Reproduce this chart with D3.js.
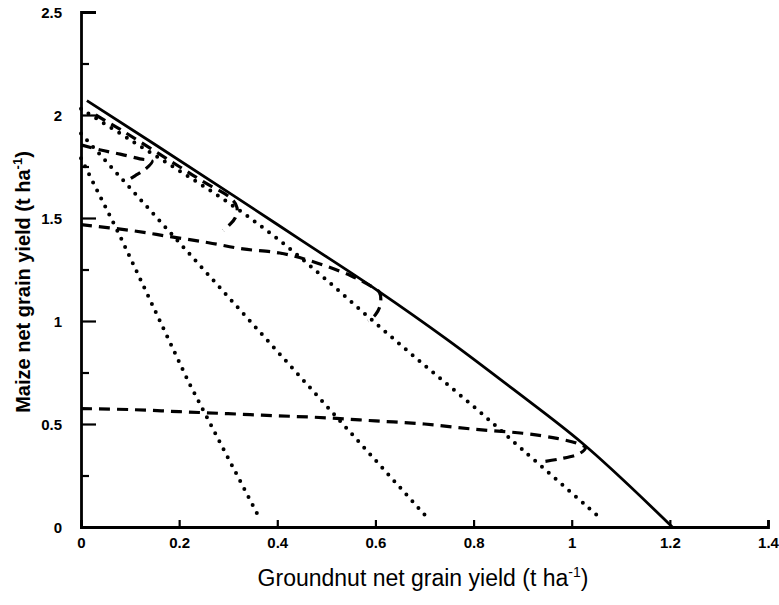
<!DOCTYPE html>
<html><head><meta charset="utf-8">
<script src="https://cdn.jsdelivr.net/npm/d3@7"></script>
<style>body{margin:0;background:#fff}svg{display:block}</style>
</head><body>
<svg id="chart" width="779" height="605"></svg>
<script>
// ---- data ----
const xTickValues = [0, 0.2, 0.4, 0.6, 0.8, 1, 1.2, 1.4];
const yTickValues = [0, 0.5, 1, 1.5, 2, 2.5];
const yMinorTicks = [0.25, 0.75, 1.25, 1.75, 2.25];

// solid frontier: [groundnut, maize]
const frontier = [[0.012,2.07],[0.15,1.858],[0.31,1.61],[0.45,1.39],[0.603,1.15],[0.745,0.912],[0.88,0.67],[1.02,0.41],[1.205,0.0]];

// dotted lines
const dotted1 = [[0,1.79],[0.08,1.41],[0.22,0.70],[0.36,0.06]];
const dotted2 = [[0,1.91],[0.70,0.06]];
const dotted3 = [[0,2.03],[0.1,1.88],[0.2,1.73],[0.3,1.575],[0.4,1.40],[0.5,1.2],[0.6,0.99],[0.7,0.785],[0.8,0.585],[0.9,0.375],[1.05,0.06]];

// dashed curves
const dashed1 = [[0,0.575],[0.1,0.57],[0.2,0.56],[0.3,0.55],[0.4,0.54],[0.5,0.53],[0.6,0.515],[0.7,0.5],[0.8,0.475],[0.9,0.455],[0.97,0.43],[1.012,0.405],[1.028,0.385],[1.015,0.355],[0.975,0.33],[0.935,0.315]];
const dashed2 = [[0,1.468],[0.1,1.44],[0.18,1.41],[0.26,1.38],[0.33,1.35],[0.405,1.33],[0.47,1.29],[0.55,1.22],[0.59,1.17],[0.608,1.14],[0.61,1.08],[0.6,1.03],[0.585,1.0]];
const dashed3 = [[0,1.855],[0.04,1.83],[0.08,1.81],[0.12,1.787],[0.145,1.775],[0.13,1.735],[0.11,1.705],[0.093,1.68]];
const dashed4 = [[0.03,2.0],[0.08,1.93],[0.14,1.84],[0.2,1.75],[0.25,1.675],[0.306,1.595],[0.318,1.55],[0.314,1.5],[0.302,1.465],[0.29,1.44]];

// ---- drawing ----
const svg = d3.select("#chart");
const x = d3.scaleLinear().domain([0, 1.4]).range([81, 768]);
const y = d3.scaleLinear().domain([0, 2.5]).range([527, 12]);
const FONT = "'Liberation Sans', Arial, Helvetica, sans-serif";
const fmt = d3.format("~g");

const line = d3.line().x(d => x(d[0])).y(d => y(d[1])).curve(d3.curveCatmullRom.alpha(0.5));
const lineLin = d3.line().x(d => x(d[0])).y(d => y(d[1]));
const lineMono = d3.line().x(d => x(d[0])).y(d => y(d[1])).curve(d3.curveMonotoneX);

// curves
const g = svg.append("g");
g.append("path").attr("d", lineMono(frontier)).attr("fill","none").attr("stroke","#000")
  .attr("stroke-width",2.8).attr("stroke-linejoin","round");
[dotted1, dotted2].forEach(d => g.append("path").attr("d", lineLin(d)).attr("fill","none")
  .attr("stroke","#000").attr("stroke-width",4).attr("stroke-linecap","round").attr("stroke-dasharray","0,9"));
g.append("path").attr("d", line(dotted3)).attr("fill","none")
  .attr("stroke","#000").attr("stroke-width",4).attr("stroke-linecap","round").attr("stroke-dasharray","0,9");
[dashed1, dashed2, dashed3, dashed4].forEach(d => g.append("path").attr("d", line(d)).attr("fill","none")
  .attr("stroke","#000").attr("stroke-width",3.2).attr("stroke-dasharray","11,7"));

// x axis
const xAxis = svg.append("g").attr("transform", `translate(0,${y(0)})`)
  .call(d3.axisBottom(x).tickValues(xTickValues).tickSize(-7).tickPadding(10).tickFormat(fmt));
// y axis
const yAxis = svg.append("g").attr("transform", `translate(${x(0)},0)`)
  .call(d3.axisLeft(y).tickValues(yTickValues).tickSize(-15).tickPadding(19).tickFormat(fmt));
svg.append("g").attr("transform", `translate(${x(0)},0)`)
  .call(d3.axisLeft(y).tickValues(yMinorTicks).tickSize(-8).tickFormat(""))
  .select(".domain").remove();

svg.selectAll(".domain").attr("stroke","#000").attr("stroke-width",2.8);
svg.selectAll(".tick line").attr("stroke","#000").attr("stroke-width",2.2);
[xAxis, yAxis].forEach(a => a.selectAll(".tick text").attr("font-family",FONT)
  .attr("font-size",15).attr("font-weight","bold").attr("fill","#000"));
yAxis.selectAll(".tick text").attr("dy","0.35em");

// axis titles
const xt = svg.append("text").attr("x", 423).attr("y", 586).attr("text-anchor","middle")
  .attr("font-family",FONT).attr("font-size",23).attr("fill","#000");
xt.append("tspan").text("Groundnut net grain yield (t ha");
xt.append("tspan").text("-1").attr("font-size",14).attr("dy",-9);
xt.append("tspan").text(")").attr("dy",9);

const yt = svg.append("text").attr("transform","translate(30,282) rotate(-90)").attr("text-anchor","middle")
  .attr("font-family",FONT).attr("font-size",20).attr("font-weight","bold").attr("fill","#000");
yt.append("tspan").text("Maize net grain yield (t ha");
yt.append("tspan").text("-1").attr("font-size",13).attr("dy",-8);
yt.append("tspan").text(")").attr("dy",8);
</script>
</body></html>
